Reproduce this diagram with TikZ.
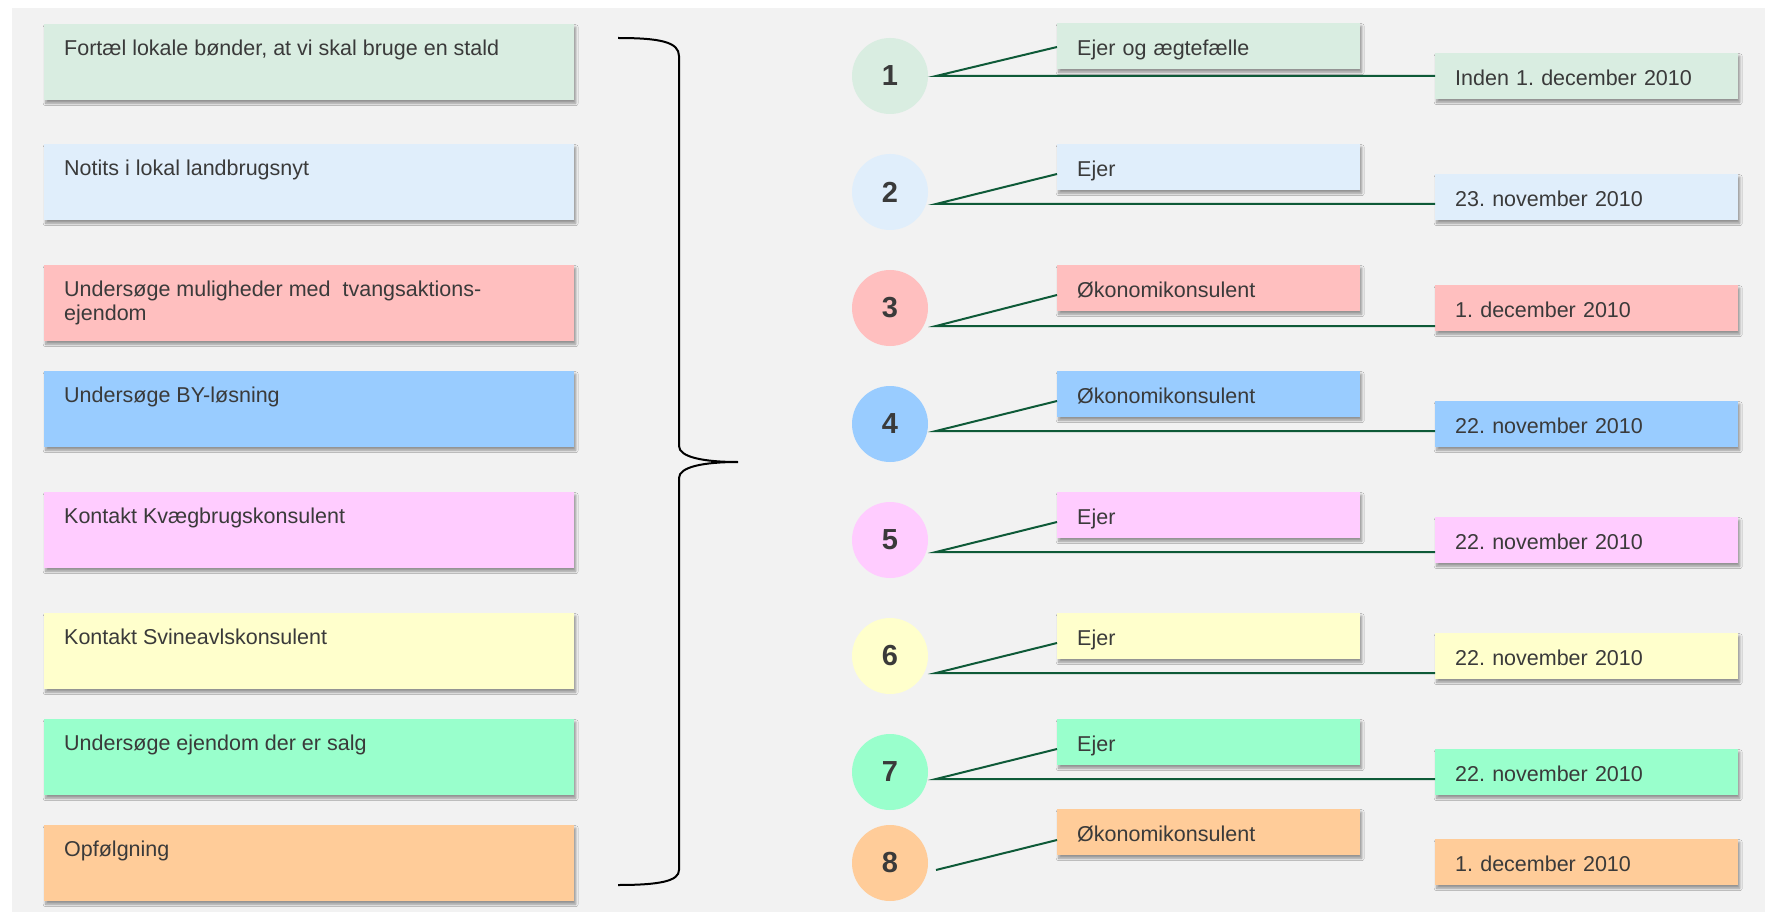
\documentclass[tikz,border=0pt]{standalone}
\usepackage{fontspec}
\setmainfont{Liberation Sans}
\usetikzlibrary{shadows.blur}
\frenchspacing
\definecolor{panel}{HTML}{F2F2F2}
\definecolor{ink}{HTML}{3A3A3A}
\definecolor{linegreen}{HTML}{0E5A38}
\definecolor{tone1}{HTML}{D9EDE1}
\definecolor{tone2}{HTML}{E0EEFB}
\definecolor{tone3}{HTML}{FFBFBF}
\definecolor{tone4}{HTML}{99CCFF}
\definecolor{tone5}{HTML}{FFCCFF}
\definecolor{tone6}{HTML}{FFFFCC}
\definecolor{tone7}{HTML}{99FFCC}
\definecolor{tone8}{HTML}{FFCC99}
\tikzset{
  box/.style={fill=#1, inner sep=0pt, anchor=north west, blur shadow={shadow xshift=1.5pt, shadow yshift=-3pt, shadow blur radius=2.5pt, shadow opacity=40}},
  task/.style={box=#1, minimum width=530pt, minimum height=76pt},
  tasktext/.style={anchor=north west, inner sep=0pt, xshift=20pt, yshift=-16pt, align=left, text=ink},
  tag/.style={box=#1, minimum width=303pt, minimum height=46pt, text width=263pt, inner xsep=20pt, align=left, text=ink, text height=19pt, text depth=1pt},
  num/.style={circle, fill=#1, minimum size=76pt, inner sep=0pt, text=ink, font=\fontsize{29}{29}\selectfont\bfseries},
  link/.style={draw=linegreen, line width=2pt}
}
\newcommand{\taskbox}[4]{\node[task=#2, label={[tasktext]north west:#4}] (t#1) at (44,#3) {};}
\newcommand{\planA}[9]{\node[num=#2] (c#1) at (890,#3) {#1}; \node[tag=#2] (r#1) at (1057,#4) {#5}; \node[tag=#2] (d#1) at (1435,#6) {#7}; \coordinate (h#1) at (936,#8); \draw[link] (r#1.west |- 0,#9) -- (h#1) -- (d#1.west |- h#1);}
\newcommand{\planB}[9]{\node[num=#2] (c#1) at (890,#3) {#1}; \node[tag=#2] (r#1) at (1057,#4) {#5}; \node[tag=#2] (d#1) at (1435,#6) {#7}; \coordinate (h#1) at (936,#8); \draw[link] (r#1.west |- 0,#9) -- (h#1);}

\begin{document}
\begin{tikzpicture}[x=1pt, y=-1pt, font=\fontsize{21.5}{24}\selectfont]
    \useasboundingbox (0,0) rectangle (1765,912);
    \fill[panel] (12,8) rectangle (1765,912);
    % tasks
    \taskbox{1}{tone1}{24}{Fortæl lokale bønder, at vi skal bruge en stald}
    \taskbox{2}{tone2}{144}{Notits i lokal landbrugsnyt}
    \taskbox{3}{tone3}{265}{Undersøge muligheder med~ tvangsaktions-\\ejendom}
    \taskbox{4}{tone4}{371}{Undersøge BY-løsning}
    \taskbox{5}{tone5}{492}{Kontakt Kvægbrugskonsulent}
    \taskbox{6}{tone6}{613}{Kontakt Svineavlskonsulent}
    \taskbox{7}{tone7}{719}{Undersøge ejendom der er salg}
    \taskbox{8}{tone8}{825}{Opfølgning}
    % brace
    \draw[line width=2pt] (618,38) .. controls (660,38) and (679,42) .. (679,56) -- (679,446)
        .. controls (679,457) and (703,462) .. (738,462)
        .. controls (703,462) and (679,467) .. (679,478) -- (679,870)
        .. controls (679,881) and (660,885) .. (618,885);
    % row1
    \planA{1}{tone1}{76}{23}{Ejer og ægtefælle}{53}{Inden 1. december 2010}{76}{47}
    % row2
    \planA{2}{tone2}{192}{144}{Ejer}{174}{23. november 2010}{204}{174}
    % row3
    \planA{3}{tone3}{308}{265}{Økonomikonsulent}{285}{1. december 2010}{326}{295}
    % row4
    \planA{4}{tone4}{424}{371}{Økonomikonsulent}{401}{22. november 2010}{431}{401}
    % row5
    \planA{5}{tone5}{540}{492}{Ejer}{517}{22. november 2010}{552}{522}
    % row6
    \planA{6}{tone6}{656}{613}{Ejer}{633}{22. november 2010}{673}{643}
    % row7
    \planA{7}{tone7}{772}{719}{Ejer}{749}{22. november 2010}{779}{749}
    % row8
    \planB{8}{tone8}{863}{809}{Økonomikonsulent}{839}{1. december 2010}{870}{840}
\end{tikzpicture}
\end{document}
